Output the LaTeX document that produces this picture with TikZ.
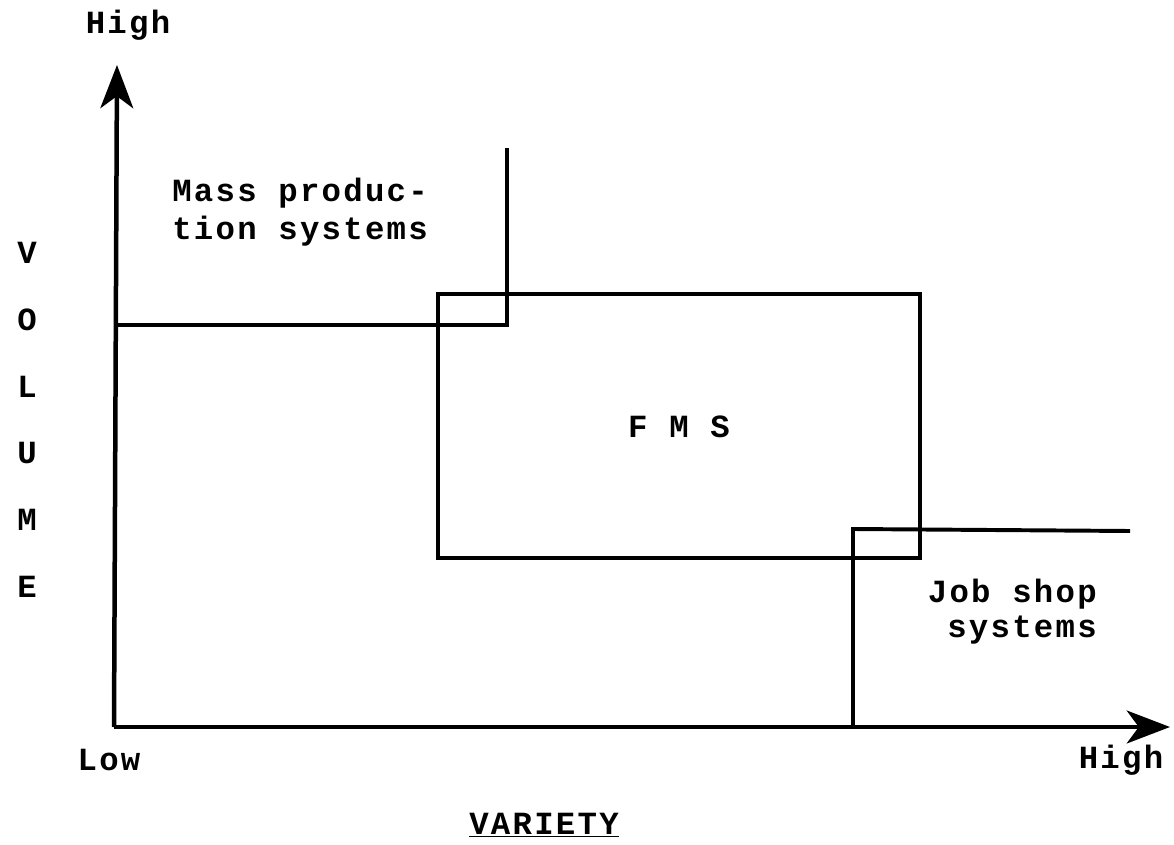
\documentclass[tikz,border=0pt]{standalone}
\usepackage{fontspec}
\newfontfamily\plotterfont[LetterSpace=7]{Liberation Mono}
\usepackage{tikz}
\usetikzlibrary{arrows.meta, positioning}

\begin{document}
\begin{tikzpicture}[
    x=0.025cm, y=-0.025cm,
    label/.style={font=\plotterfont\bfseries\fontsize{23}{27}\selectfont, inner sep=0pt},
    axis/.style={line width=3.2pt, -{Stealth[length=1.08cm, width=0.82cm, inset=0.3cm]}},
    region/.style={line width=2.8pt}
]
\useasboundingbox (0,0) rectangle (1174,845);

% Axes
\coordinate (origin) at (114,727);
\coordinate (ytip) at (117,65);
\coordinate (xtip) at (1170,727);
\draw[axis] (origin) -- (ytip);
\draw[axis] (origin) -- (xtip);

% Axis labels
\node[label] at (128,25) (yhigh) {High};
\node[label] at (109,760) (xlow) {Low};
\node[label] at (1121,760) (xhigh) {High};
\node[label] at (544,825) (variety) {\underline{VARIETY}};
\node[label] at (27,253) (v) {V};
\node[label] at (27,320) (o) {O};
\node[label] at (27,387) (l) {L};
\node[label] at (27,453) (u) {U};
\node[label] at (27,520) (m) {M};
\node[label] at (27,587) (e) {E};

% Mass production
\coordinate (mass1) at (116,325);
\coordinate (mass2) at (507,325);
\coordinate (mass3) at (507,148);
\draw[region] (mass1) -- (mass2) -- (mass3);
\node[label, align=left, anchor=west] at (172,212) (mass) {Mass produc-\\tion systems};

% FMS
\node[region, draw, minimum width=482*0.025cm, minimum height=264*0.025cm,
      inner sep=0pt] at (679,426) (fms) {};
\node[label] at (679,427) (fmslabel) {F M S};

% Job shop
\coordinate (job1) at (853,727);
\coordinate (job2) at (853,529);
\coordinate (job3) at (1130,531);
\draw[region] (job1) -- (job2) -- (job3);
\node[label, align=right, anchor=east,
      font=\plotterfont\bfseries\fontsize{23}{25}\selectfont] at (1097,612) (job) {Job shop\\systems};

\end{tikzpicture}
\end{document}
